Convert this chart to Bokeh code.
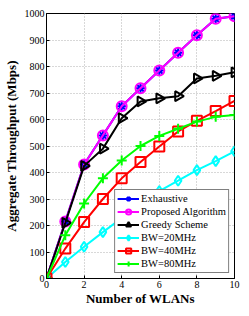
import math
from bokeh.plotting import figure
from bokeh.models import FixedTicker, Legend
from bokeh.embed import file_html
from bokeh.resources import INLINE

x_vals = [0, 1, 2, 3, 4, 5, 6, 7, 8, 9, 10]
exhaustive = [0, 215, 430, 540, 650, 718, 785, 852, 918, 980, 990]
proposed = [0, 215, 430, 540, 650, 718, 785, 852, 918, 980, 990]
greedy = [0, 210, 425, 490, 605, 668, 680, 688, 755, 765, 778]
bw20 = [0, 62, 120, 175, 228, 280, 330, 369, 409, 443, 480]
bw40 = [0, 113, 213, 300, 378, 440, 498, 555, 595, 632, 670]
bw80 = [0, 163, 283, 378, 445, 500, 538, 565, 592, 610, 617]
x_ticks = [0, 2, 4, 6, 8, 10]
y_ticks = [0, 100, 200, 300, 400, 500, 600, 700, 800, 900, 1000]

FONT = "Liberation Serif"

p = figure(width=241, height=308, output_backend="svg", toolbar_location=None,
           x_range=(0, 10), y_range=(0, 1000),
           min_border_left=42, min_border_right=7, min_border_top=13, min_border_bottom=25)
p.outline_line_color = "black"
p.outline_line_width = 1
p.background_fill_color = "white"
p.border_fill_color = "white"

for ax in [p.xaxis[0], p.yaxis[0]]:
    ax.major_label_text_font = FONT
    ax.major_label_text_font_size = "10px"
    ax.major_label_text_color = "black"
    ax.axis_label_text_font = FONT
    ax.axis_label_text_font_style = "bold"
    ax.axis_label_text_font_size = "13px"
    ax.axis_label_text_color = "black"
    ax.major_tick_in = 3
    ax.major_tick_out = 0
    ax.minor_tick_in = 0
    ax.minor_tick_out = 0
    ax.axis_line_color = "black"
    ax.major_tick_line_color = "black"
    ax.major_label_standoff = 2
    ax.axis_label_standoff = 0

p.yaxis[0].axis_label_standoff = 3
p.xaxis[0].ticker = FixedTicker(ticks=x_ticks)
p.yaxis[0].ticker = FixedTicker(ticks=y_ticks)
p.xaxis[0].axis_label = "Number of WLANs"
p.yaxis[0].axis_label = "Aggregate Throughput (Mbps)"

p.xgrid.ticker = FixedTicker(ticks=x_ticks)
p.ygrid.ticker = FixedTicker(ticks=y_ticks)
for g in [p.xgrid, p.ygrid]:
    g.grid_line_color = "#b0b0b0"
    g.grid_line_dash = "1 2"
    g.grid_line_width = 1

series = [
    ("Exhaustive", exhaustive, "#0000ff", "asterisk", 0),
    ("Proposed Algorithm", proposed, "#ff00ff", "circle", 0),
    ("Greedy Scheme", greedy, "#000000", "triangle", -math.pi / 2),
    ("BW=20MHz", bw20, "#00ffff", "diamond", 0),
    ("BW=40MHz", bw40, "#ff0000", "square", 0),
    ("BW=80MHz", bw80, "#00ff00", "cross", 0),
]

items = []
for label, ys, color, marker, ang in series:
    r1 = p.line(x_vals, ys, line_color=color, line_width=2)
    r2 = p.scatter(x_vals, ys, marker=marker, size=10, angle=ang,
                   line_color=color, fill_color=None, line_width=2)
    items.append((label, [r1, r2]))

legend = Legend(items=items, location="bottom_right")
legend.label_text_font = FONT
legend.label_text_font_size = "10.5px"
legend.label_text_color = "black"
legend.label_standoff = 2
legend.glyph_width = 22
legend.glyph_height = 13
legend.label_height = 13
legend.spacing = 0
legend.padding = 2
legend.margin = 5
legend.border_line_color = "black"
legend.border_line_width = 1
legend.background_fill_alpha = 1
p.add_layout(legend)

open("out.html", "w").write(file_html(p, INLINE))
